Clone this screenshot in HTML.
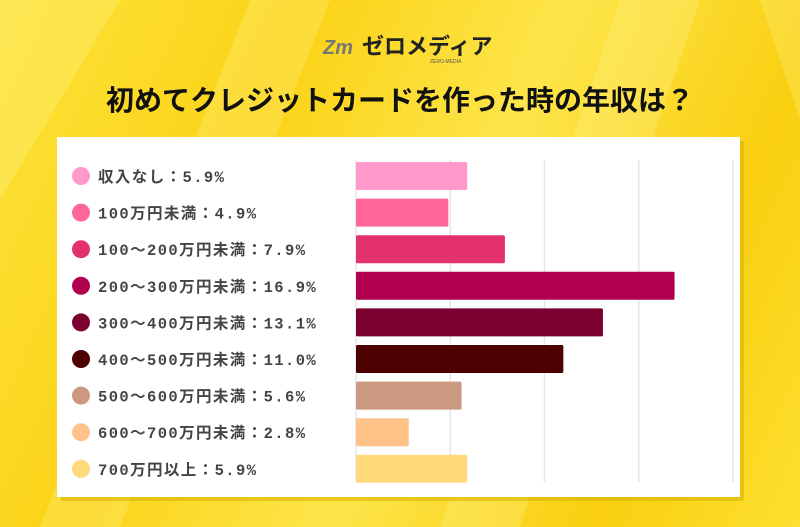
<!DOCTYPE html>
<html><head><meta charset="utf-8"><style>
body{margin:0;width:800px;height:527px;overflow:hidden;font-family:"Liberation Sans","Noto Sans CJK JP",sans-serif;}
#bg{position:absolute;left:0;top:0;width:800px;height:527px;background:linear-gradient(115deg,#fde33a 0%,#fbd317 30%,#fde54a 55%,#f9cf10 80%,#fde030 100%);}
</style></head><body>
<div id="bg"></div>
<svg id="c" width="800" height="527" style="position:absolute;left:0;top:0">
<g opacity="0.25">
<polygon points="0,0 120,0 0,200" fill="#fff6a0"/>
<polygon points="250,0 330,0 120,527 40,527" fill="#fff6a0"/>
<polygon points="620,0 700,0 520,527 440,527" fill="#fff6a0"/>
<polygon points="760,0 800,0 800,120" fill="#fff6a0"/>
</g>
<g>
<text x="323" y="54" font-size="20" fill="#777" font-style="italic" font-weight="bold">Zm</text>
<text x="362" y="54" font-size="22" fill="#222" font-weight="bold">ゼロメディア</text>
<text x="430" y="63" font-size="5" fill="#555">ZERO-MEDIA</text>
</g>
<text x="400" y="110" text-anchor="middle" font-size="28" font-weight="bold" fill="#111">初めてクレジットカードを作った時の年収は？</text>
<rect x="61" y="141" width="683" height="360" fill="#d9b400" opacity="0.6"/>
<rect x="57" y="137" width="683" height="360" fill="#fff"/>
<g id="grid"></g><g id="bars"></g><g id="legend"></g>
</svg>
<script>
const categories=["収入なし","100万円未満","100～200万円未満","200～300万円未満","300～400万円未満","400～500万円未満","500～600万円未満","600～700万円未満","700万円以上"];
const values=[5.9,4.9,7.9,16.9,13.1,11.0,5.6,2.8,5.9];
const valueLabels=["5.9%","4.9%","7.9%","16.9%","13.1%","11.0%","5.6%","2.8%","5.9%"];
const gridTicks=[0,5,10,15,20];
const colors=["#ff99cc","#ff6699","#e3306f","#b0004e","#7a0030","#4d0000","#cc9980","#ffc38a","#ffd97a"];
const NS="http://www.w3.org/2000/svg";
const x=v=>356+v*18.85;
const y=i=>162+i*36.6;
function mk(t,a,p){const e=document.createElementNS(NS,t);for(const k in a)e.setAttribute(k,a[k]);p.appendChild(e);return e;}
const g=document.getElementById('grid'),b=document.getElementById('bars'),l=document.getElementById('legend');
gridTicks.forEach(t=>{const e=mk('line',{x1:x(t),x2:x(t),y1:160,y2:482,stroke:'#e6e6e6','stroke-width':1.5},g);

});
values.forEach((v,i)=>{
const r=mk('rect',{x:356,y:y(i),width:x(v)-356,height:28,rx:1.5,fill:colors[i]},b);


const c=mk('circle',{cx:81,cy:y(i)+14,r:9,fill:colors[i]},l);


const t=mk('text',{x:98,y:y(i)+20,'font-size':15.5,'letter-spacing':1.4,'font-weight':'bold',fill:'#444','font-family':'"Liberation Mono","Noto Sans CJK JP",monospace'},l);
t.textContent=categories[i]+"："+valueLabels[i];


});
</script>
</body></html>
